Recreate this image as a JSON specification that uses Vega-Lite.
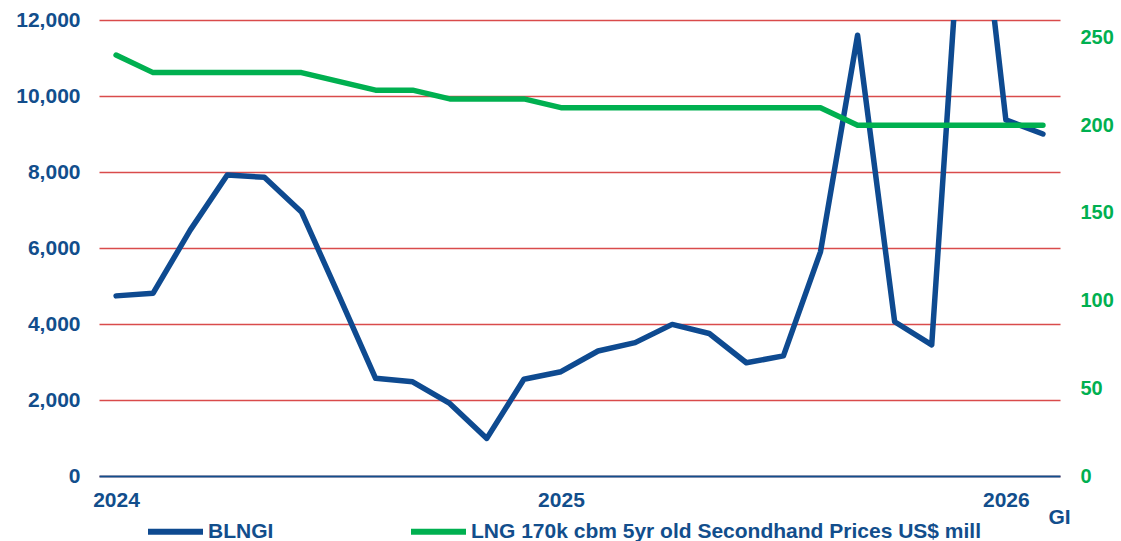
{
  "$schema": "https://vega.github.io/schema/vega-lite/v6.json",
  "width": 961,
  "height": 456,
  "autosize": {"type": "none"},
  "padding": {"left": 99, "top": 20, "right": 61, "bottom": 65},
  "background": "white",
  "config": {
    "view": {"stroke": null},
    "font": "Liberation Sans",
    "axis": {"labelFont": "Liberation Sans", "labelFontWeight": "bold", "ticks": false, "domain": false, "grid": false}
  },
  "data": {
    "values": [
      {"month": "2024-01", "blngi": 4740, "lng": 240},
      {"month": "2024-02", "blngi": 4810, "lng": 230},
      {"month": "2024-03", "blngi": 6470, "lng": 230},
      {"month": "2024-04", "blngi": 7920, "lng": 230},
      {"month": "2024-05", "blngi": 7860, "lng": 230},
      {"month": "2024-06", "blngi": 6950, "lng": 230},
      {"month": "2024-07", "blngi": 4770, "lng": 225},
      {"month": "2024-08", "blngi": 2570, "lng": 220},
      {"month": "2024-09", "blngi": 2480, "lng": 220},
      {"month": "2024-10", "blngi": 1910, "lng": 215},
      {"month": "2024-11", "blngi": 990, "lng": 215},
      {"month": "2024-12", "blngi": 2545, "lng": 215},
      {"month": "2025-01", "blngi": 2745, "lng": 210},
      {"month": "2025-02", "blngi": 3290, "lng": 210},
      {"month": "2025-03", "blngi": 3510, "lng": 210},
      {"month": "2025-04", "blngi": 3990, "lng": 210},
      {"month": "2025-05", "blngi": 3750, "lng": 210},
      {"month": "2025-06", "blngi": 2980, "lng": 210},
      {"month": "2025-07", "blngi": 3160, "lng": 210},
      {"month": "2025-08", "blngi": 5900, "lng": 210},
      {"month": "2025-09", "blngi": 11600, "lng": 200},
      {"month": "2025-10", "blngi": 4060, "lng": 200},
      {"month": "2025-11", "blngi": 3450, "lng": 200},
      {"month": "2025-12", "blngi": 17900, "lng": 200},
      {"month": "2026-01", "blngi": 9370, "lng": 200},
      {"month": "2026-02", "blngi": 9000, "lng": 200}
    ]
  },
  "encoding": {
    "x": {
      "field": "month",
      "type": "ordinal",
      "sort": null,
      "scale": {"type": "point", "padding": 0.46},
      "axis": {
        "title": "GI",
        "titleFont": "Liberation Sans",
        "titleFontWeight": "bold",
        "titleFontSize": 21,
        "titleColor": "#124E8C",
        "titleX": 960,
        "titleY": 41,
        "titleAlign": "center",
        "titleBaseline": "middle",
        "labelAngle": 0,
        "labelOverlap": false,
        "labelFontSize": 21,
        "labelColor": "#124E8C",
        "labelPadding": 13,
        "labelExpr": "slice(datum.value,5)=='01' ? slice(datum.value,0,4) : ''",
        "domain": true,
        "domainColor": "#124E8C",
        "domainWidth": 2,
        "zindex": 1
      }
    }
  },
  "layer": [
    {
      "mark": {"type": "line", "clip": true, "strokeWidth": 5.5, "strokeCap": "round", "strokeJoin": "round"},
      "encoding": {
        "y": {
          "field": "blngi",
          "type": "quantitative",
          "scale": {"domain": [0, 12000], "nice": false, "zero": true},
          "axis": {
            "title": null,
            "values": [0, 2000, 4000, 6000, 8000, 10000, 12000],
            "format": ",.0f",
            "labelFontSize": 21,
            "labelColor": "#124E8C",
            "labelPadding": 19,
            "grid": true,
            "gridColor": "#D94B4B",
            "gridWidth": 1.6
          }
        },
        "color": {
          "datum": "BLNGI",
          "type": "nominal",
          "scale": {
            "domain": ["BLNGI", "LNG 170k cbm 5yr old Secondhand Prices US$ mill"],
            "range": ["#0E4A90", "#00B050"]
          },
          "legend": {
            "title": null,
            "orient": "none",
            "direction": "horizontal",
            "legendX": 46,
            "legendY": 481,
            "padding": 0,
            "symbolType": "stroke",
            "symbolSize": 3025,
            "symbolStrokeWidth": 6,
            "labelFont": "Liberation Sans",
            "labelFontWeight": "bold",
            "labelFontSize": 21,
            "labelColor": "#124E8C",
            "labelOffset": 2,
            "labelLimit": 800,
            "columnPadding": 125
          }
        }
      }
    },
    {
      "mark": {"type": "line", "clip": true, "strokeWidth": 5.5, "strokeCap": "round", "strokeJoin": "round"},
      "encoding": {
        "y": {
          "field": "lng",
          "type": "quantitative",
          "scale": {"domain": [0, 260], "nice": false, "zero": true},
          "axis": {
            "title": null,
            "orient": "right",
            "values": [0, 50, 100, 150, 200, 250],
            "labelFontSize": 20,
            "labelColor": "#00B050",
            "labelPadding": 20,
            "grid": false
          }
        },
        "color": {"datum": "LNG 170k cbm 5yr old Secondhand Prices US$ mill", "type": "nominal"}
      }
    }
  ],
  "resolve": {"scale": {"y": "independent"}}
}
